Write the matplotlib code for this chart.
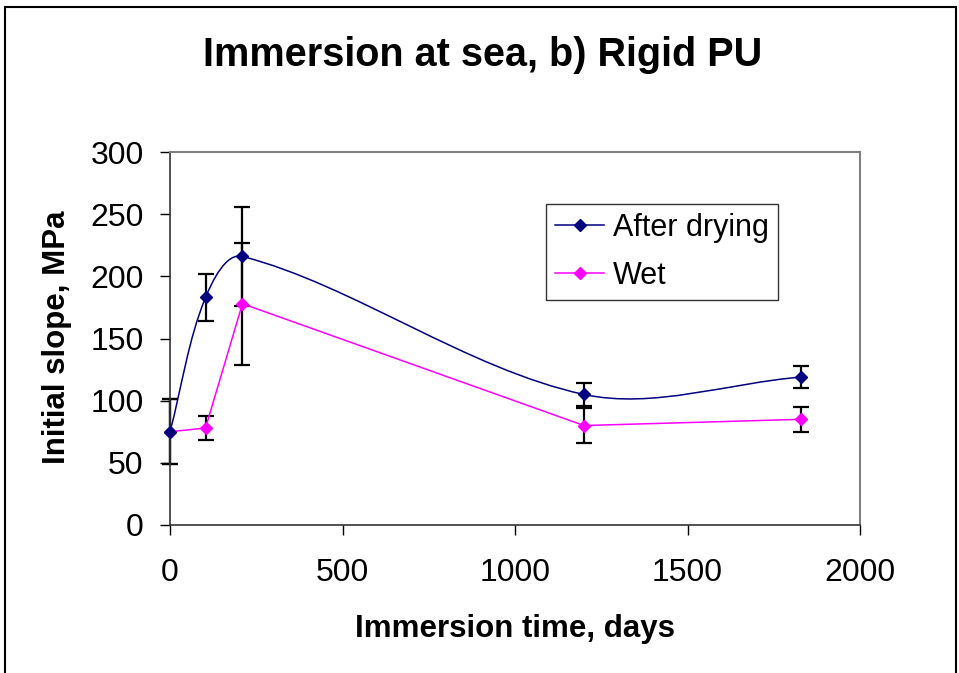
import numpy as np
import matplotlib
matplotlib.use("Agg")
import matplotlib.pyplot as plt
from matplotlib.path import Path
from matplotlib.patches import PathPatch, Rectangle

plt.rcParams['font.family'] = ['Liberation Sans', 'DejaVu Sans']

# data
days_dry = [0, 103, 210, 1200, 1830]
slope_dry = [75, 183, 216, 105, 119]
err_dry = [26, 19, 40, 9, 9]

days_wet = [0, 103, 210, 1200, 1830]
slope_wet = [75, 78, 178, 80, 85]
err_wet = [26, 10, 49, 14, 10]

navy = '#000080'
magenta = '#FF00FF'

X_MAX, Y_MAX = 2000, 300
AX_W, AX_H = 690, 373   # axes size in pixels, used for the smoothing


# Excel-like smoothed line: bezier through the points, tangents weighted
# by chord length (computed in screen proportions)
def smooth_path(xs, ys):
    sc = np.array([AX_W / X_MAX, AX_H / Y_MAX])
    pts = np.column_stack([xs, ys]).astype(float) * sc
    n = len(pts)
    verts = [pts[0]]
    codes = [Path.MOVETO]
    for i in range(n - 1):
        p0 = pts[i - 1] if i > 0 else pts[i]
        p1 = pts[i]
        p2 = pts[i + 1]
        p3 = pts[i + 2] if i + 2 < n else pts[i + 1]
        d01 = np.hypot(*(p1 - p0))
        d12 = np.hypot(*(p2 - p1))
        d23 = np.hypot(*(p3 - p2))
        w1 = d12 / (d01 + d12) if d01 + d12 > 0 else 0
        w2 = d12 / (d12 + d23) if d12 + d23 > 0 else 0
        c1 = p1 + (p2 - p0) * w1 / 3.0
        c2 = p2 - (p3 - p1) * w2 / 3.0
        verts += [c1, c2, p2]
        codes += [Path.CURVE4] * 3
    verts = np.array(verts) / sc
    return Path(verts, codes)


fig = plt.figure(figsize=(9.59, 6.73), dpi=100)
ax = fig.add_axes([170 / 959, 1 - 525 / 673, AX_W / 959, AX_H / 673])

# outer chart frame
fig.patches.append(Rectangle((5 / 959, -0.05), 951 / 959, 1.05 - 7 / 673,
                             transform=fig.transFigure, fill=False,
                             edgecolor='black', linewidth=1.5))

ax.add_patch(PathPatch(smooth_path(days_dry, slope_dry), fill=False,
                       edgecolor=navy, linewidth=1.1, zorder=3))
ax.plot(days_dry, slope_dry, linestyle='none', marker='D', markersize=6,
        color=navy, zorder=5, clip_on=False)
ax.plot([], [], color=navy, marker='D', markersize=6, linewidth=1.1,
        label='After drying')
ax.plot(days_wet, slope_wet, color=magenta, marker='D', markersize=6,
        linewidth=1.1, zorder=4, label='Wet', clip_on=False)

for yv, ev in [(slope_dry, err_dry), (slope_wet, err_wet)]:
    eb = ax.errorbar(days_dry, yv, yerr=ev, fmt='none', ecolor='black',
                     elinewidth=1.6, capsize=5.5, capthick=1.6, zorder=2)
    for art in eb.lines[1] + eb.lines[2]:
        art.set_clip_on(False)

ax.set_xlim(0, X_MAX)
ax.set_ylim(0, Y_MAX)
ax.set_xticks(np.arange(0, 2001, 500))
ax.set_yticks(np.arange(0, 301, 50))
ax.tick_params(direction='out', length=7, width=1, labelsize=23)
ax.tick_params(axis='x', pad=17)
ax.tick_params(axis='y', pad=12)
for s in ['top', 'right']:
    ax.spines[s].set_color('#808080')
    ax.spines[s].set_linewidth(1.5)
for s in ['left', 'bottom']:
    ax.spines[s].set_color('#333333')
    ax.spines[s].set_linewidth(1.2)

ax.set_xlabel('Immersion time, days', fontsize=22.5, fontweight='bold')
ax.set_ylabel('Initial slope, MPa', fontsize=22.5, fontweight='bold')
ax.xaxis.set_label_coords((515 - 170) / AX_W, (525 - 614) / AX_H)
ax.yaxis.set_label_coords((72 - 170) / AX_W, (525 - 337) / AX_H)
fig.text(483 / 959, 1 - 55 / 673, 'Immersion at sea, b) Rigid PU', ha='center',
         va='center', fontsize=28.5, fontweight='bold')

leg = ax.legend(loc='upper left', bbox_to_anchor=((546 - 170) / AX_W, (525 - 204) / AX_H),
                fontsize=22, frameon=True, fancybox=False, borderpad=0.3,
                handlelength=1.6, handletextpad=0.3, labelspacing=0.58,
                borderaxespad=0)
leg.get_frame().set_edgecolor('black')
leg.get_frame().set_linewidth(1)

fig.savefig('out.png', dpi=100)
